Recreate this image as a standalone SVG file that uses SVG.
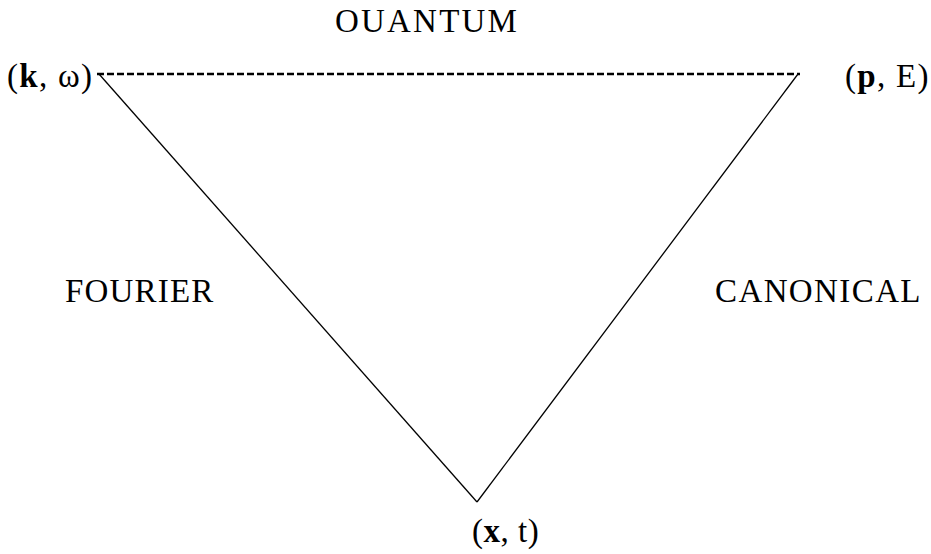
<svg xmlns="http://www.w3.org/2000/svg" width="931" height="554" viewBox="0 0 931 554">
<style>
text{font-family:"Liberation Serif","Times New Roman",serif;font-size:33px;fill:#000;letter-spacing:1.5px}
.b{font-weight:bold}
.edge{stroke:#000;stroke-width:1.3;fill:none}
.dash{stroke:#000;stroke-width:2.3;stroke-dasharray:7 3;fill:none}
</style>
<rect width="931" height="554" fill="#fff"/>
<g id="connectors">
<line class="dash" x1="97" y1="74" x2="800" y2="74"/>
<line class="edge" x1="99" y1="74" x2="477" y2="502"/>
<line class="edge" x1="477" y1="502" x2="798" y2="74"/>
</g>
<g id="node-kw"><text x="7" y="87" style="letter-spacing:1.3px">(<tspan class="b">k</tspan>, ω)</text></g>
<g id="node-pE"><text x="845" y="87" style="letter-spacing:1.3px">(<tspan class="b">p</tspan>, E)</text></g>
<g id="node-xt"><text x="472" y="542" style="letter-spacing:0.5px">(<tspan class="b">x</tspan>, t)</text></g>
<g id="label-quantum"><text x="335" y="32" style="letter-spacing:2.2px">OUANTUM</text></g>
<g id="label-fourier"><text x="65" y="302" style="letter-spacing:1.2px">FOURIER</text></g>
<g id="label-canonical"><text x="715" y="302" style="letter-spacing:1.4px">CANONICAL</text></g>
</svg>
